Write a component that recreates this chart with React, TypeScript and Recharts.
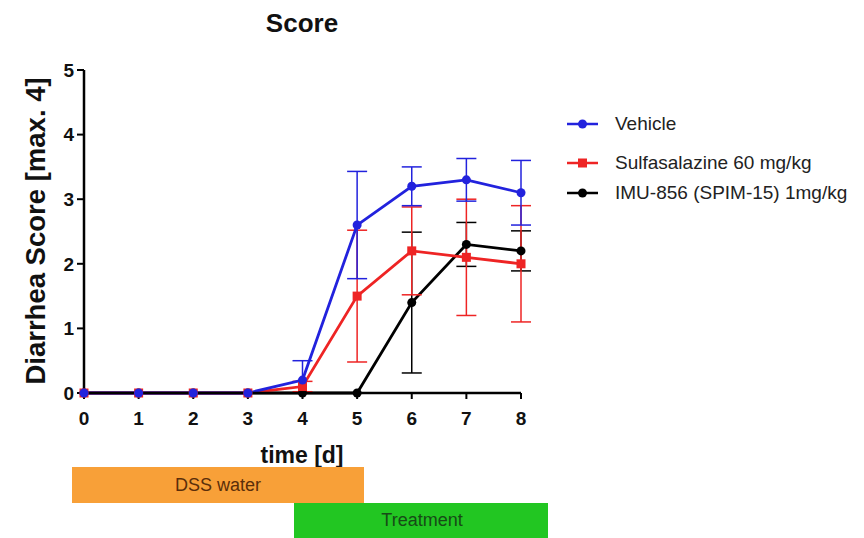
import { LineChart, Line, XAxis, YAxis, ErrorBar } from "recharts";

const days = [0, 1, 2, 3, 4, 5, 6, 7, 8];
const vehicle = [0, 0, 0, 0, 0.2, 2.6, 3.2, 3.3, 3.1];
// [lower, upper]; the day-4 lower whisker stops at the axis
const vehicleErr = [[0, 0], [0, 0], [0, 0], [0, 0], [0.2, 0.3], [0.83, 0.83], [0.3, 0.3], [0.33, 0.33], [0.5, 0.5]];
const sulfa = [0, 0, 0, 0, 0.1, 1.5, 2.2, 2.1, 2.0];
const sulfaErr = [0, 0, 0, 0, 0.08, 1.02, 0.68, 0.9, 0.9];
const imu = [0, 0, 0, 0, 0, 0, 1.4, 2.3, 2.2];
const imuErr = [0, 0, 0, 0, 0, 0, 1.09, 0.34, 0.31];

const yTicks = [0, 1, 2, 3, 4, 5];

const BLUE = "#2222dd";
const RED = "#ee2424";
const BLACK = "#000000";

const series = [
  { key: "vehicle", name: "Vehicle", color: BLUE, marker: "circle" },
  { key: "sulfa", name: "Sulfasalazine 60 mg/kg", color: RED, marker: "square" },
  { key: "imu", name: "IMU-856 (SPIM-15) 1mg/kg", color: BLACK, marker: "circle" },
];

const data = days.map((d, i) => ({
  day: d,
  vehicle: vehicle[i],
  vehicleErr: vehicleErr[i][0] || vehicleErr[i][1] ? vehicleErr[i] : 0,
  sulfa: sulfa[i],
  sulfaErr: sulfaErr[i],
  imu: imu[i],
  imuErr: imuErr[i],
}));

const font = "'Liberation Sans', Arial, sans-serif";

function SquareDot(props: any) {
  const { cx, cy } = props;
  if (cx == null || cy == null) return null;
  return <rect x={cx - 4.5} y={cy - 4.5} width={9} height={9} fill={RED} />;
}

const tickStyle = { fill: "#111", fontSize: 19, fontWeight: 700, fontFamily: font };

export default function App() {
  return (
    <div
      style={{
        position: "absolute",
        left: 0,
        top: 0,
        width: 864,
        height: 538,
        background: "#fff",
        fontFamily: font,
        overflow: "hidden",
      }}
    >
      <LineChart
        width={864}
        height={538}
        data={data}
        margin={{ top: 70, right: 343, bottom: 115, left: 0 }}
      >
        <XAxis
          type="number"
          dataKey="day"
          domain={[0, 8]}
          ticks={days}
          height={30}
          tickSize={6}
          tickMargin={13}
          axisLine={{ stroke: "#000", strokeWidth: 2.5 }}
          tickLine={{ stroke: "#000", strokeWidth: 2 }}
          tick={tickStyle}
        />
        <YAxis
          type="number"
          domain={[0, 5]}
          ticks={yTicks}
          width={84}
          tickSize={7}
          tickMargin={3}
          axisLine={{ stroke: "#000", strokeWidth: 2.5 }}
          tickLine={{ stroke: "#000", strokeWidth: 2 }}
          tick={tickStyle}
        />
        <Line
          dataKey="imu"
          stroke={BLACK}
          strokeWidth={2.8}
          dot={{ r: 4.5, fill: BLACK, stroke: BLACK, strokeWidth: 0 }}
          isAnimationActive={false}
        >
          <ErrorBar dataKey="imuErr" width={10} stroke={BLACK} strokeWidth={1.5} direction="y" />
        </Line>
        <Line
          dataKey="sulfa"
          stroke={RED}
          strokeWidth={2.8}
          dot={<SquareDot />}
          isAnimationActive={false}
        >
          <ErrorBar dataKey="sulfaErr" width={10} stroke={RED} strokeWidth={1.5} direction="y" />
        </Line>
        <Line
          dataKey="vehicle"
          stroke={BLUE}
          strokeWidth={2.8}
          dot={{ r: 4.5, fill: BLUE, stroke: BLUE, strokeWidth: 0 }}
          isAnimationActive={false}
        >
          <ErrorBar dataKey="vehicleErr" width={10} stroke={BLUE} strokeWidth={1.5} direction="y" />
        </Line>
      </LineChart>

      {/* title */}
      <div
        style={{
          position: "absolute",
          left: 202,
          width: 200,
          top: 8,
          textAlign: "center",
          fontSize: 26,
          fontWeight: 700,
          color: "#111",
        }}
      >
        Score
      </div>

      {/* y axis title */}
      <div
        style={{
          position: "absolute",
          left: 36,
          top: 231,
          transform: "translate(-50%, -50%) rotate(-90deg)",
          whiteSpace: "nowrap",
          fontSize: 27.5,
          fontWeight: 700,
          color: "#111",
        }}
      >
        Diarrhea Score [max. 4]
      </div>

      {/* x axis title */}
      <div
        style={{
          position: "absolute",
          left: 302,
          top: 455,
          transform: "translate(-50%, -50%)",
          whiteSpace: "nowrap",
          fontSize: 23,
          fontWeight: 700,
          color: "#111",
        }}
      >
        time [d]
      </div>

      {/* legend */}
      {series.map((s, i) => (
        <div
          key={s.key}
          style={{
            position: "absolute",
            left: 567,
            top: [124, 163, 193][i] - 12,
            height: 24,
            display: "flex",
            alignItems: "center",
            whiteSpace: "nowrap",
          }}
        >
          <svg width={31} height={12}>
            <line x1={0} y1={6} x2={31} y2={6} stroke={s.color} strokeWidth={2.5} />
            {s.marker === "square" ? (
              <rect x={11} y={1.5} width={9} height={9} fill={s.color} />
            ) : (
              <circle cx={15.5} cy={6} r={4.5} fill={s.color} />
            )}
          </svg>
          <span style={{ marginLeft: 17, fontSize: 19, color: "#222" }}>{s.name}</span>
        </div>
      ))}

      {/* phase bars */}
      <div
        style={{
          position: "absolute",
          left: 72,
          top: 467,
          width: 292,
          height: 36,
          background: "#f8a038",
          color: "#5a2e0a",
          fontSize: 18,
          display: "flex",
          alignItems: "center",
          justifyContent: "center",
        }}
      >
        DSS water
      </div>
      <div
        style={{
          position: "absolute",
          left: 294,
          top: 503,
          width: 254,
          height: 35,
          background: "#22c622",
          color: "#174a17",
          fontSize: 18,
          display: "flex",
          alignItems: "center",
          justifyContent: "center",
          paddingLeft: 2,
          boxSizing: "border-box",
        }}
      >
        Treatment
      </div>
    </div>
  );
}
